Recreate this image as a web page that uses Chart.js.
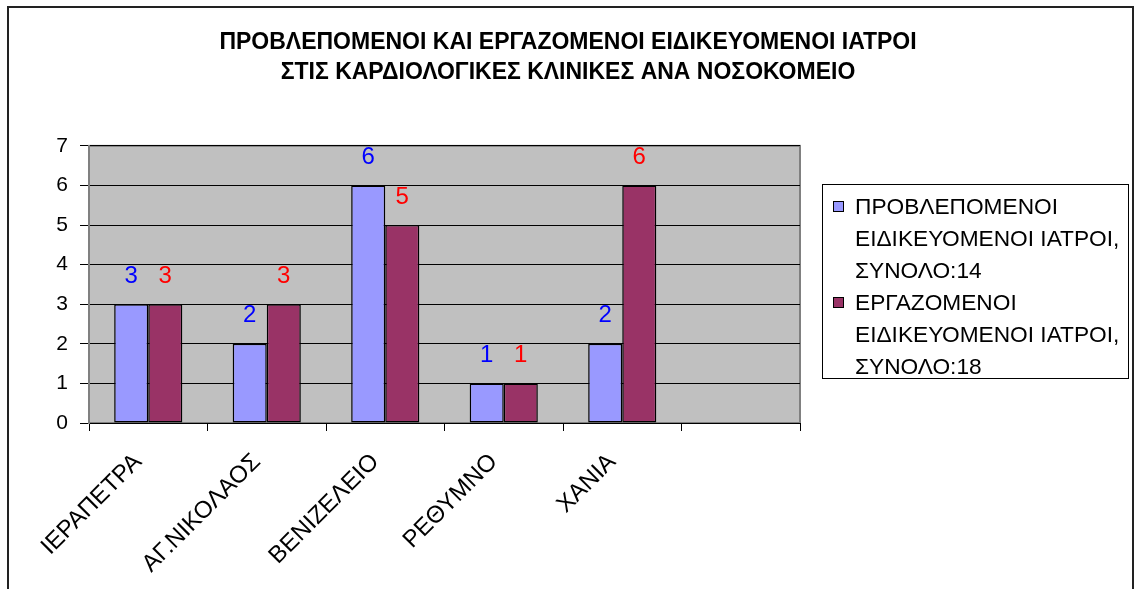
<!DOCTYPE html>
<html>
<head>
<meta charset="utf-8">
<script src="https://cdn.jsdelivr.net/npm/chart.js@4.4.1/dist/chart.umd.min.js"></script>
<style>
  body { margin: 0; background: #fff; }
  #wrap { position: relative; width: 1136px; height: 589px; overflow: hidden; }
  #frame { position: absolute; left: 7px; top: 6px; width: 1123px; height: 620px; border: 2px solid #222; border-bottom: none; }
  #chart { position: absolute; left: 0; top: 0; }
  #legenda { position: absolute; left: 822px; top: 184px; width: 305px; height: 188px; padding-top: 5px; border: 1px solid #000;
    font-family: 'Liberation Sans', Arial, sans-serif; font-size: 22.7px; line-height: 32px; color: #000; }
  .item { position: relative; padding-left: 32px; white-space: nowrap; }
  .cuadro { position: absolute; left: 10px; top: 11px; width: 9px; height: 9px; border: 1px solid #000; }
</style>
</head>
<body>
<div id="wrap">
  <canvas id="chart" width="1136" height="589"></canvas>
  <div id="frame"></div>
  <div id="legenda"></div>
</div>
<script>
// datos
const hospitales = ["ΙΕΡΑΠΕΤΡΑ", "ΑΓ.ΝΙΚΟΛΑΟΣ", "ΒΕΝΙΖΕΛΕΙΟ", "ΡΕΘΥΜΝΟ", "ΧΑΝΙΑ", ""];
const provlepomenoi = [3, 2, 6, 1, 2, null];
const ergazomenoi = [3, 3, 5, 1, 6, null];
const serie1 = ["ΠΡΟΒΛΕΠΟΜΕΝΟΙ", "ΕΙΔΙΚΕΥΟΜΕΝΟΙ ΙΑΤΡΟΙ,", "ΣΥΝΟΛΟ:14"];
const serie2 = ["ΕΡΓΑΖΟΜΕΝΟΙ", "ΕΙΔΙΚΕΥΟΜΕΝΟΙ ΙΑΤΡΟΙ,", "ΣΥΝΟΛΟ:18"];
const titulo = ["ΠΡΟΒΛΕΠΟΜΕΝΟΙ ΚΑΙ ΕΡΓΑΖΟΜΕΝΟΙ ΕΙΔΙΚΕΥΟΜΕΝΟΙ ΙΑΤΡΟΙ", "ΣΤΙΣ ΚΑΡΔΙΟΛΟΓΙΚΕΣ ΚΛΙΝΙΚΕΣ ΑΝΑ ΝΟΣΟΚΟΜΕΙΟ"];
const ejeY = { min: 0, max: 7, paso: 1 };

Chart.defaults.font.family = "'Liberation Sans', Arial, sans-serif";
Chart.defaults.color = "#000";

const colorEtiqueta = ["#0000FF", "#FF0000"];

// fondo gris del area de trazado
const fondoPlugin = {
  id: "fondo",
  beforeDraw(chart) {
    const a = chart.chartArea;
    const ctx = chart.ctx;
    ctx.save();
    ctx.fillStyle = "#C0C0C0";
    ctx.fillRect(a.left, a.top, a.right - a.left, a.bottom - a.top);
    ctx.strokeStyle = "#808080";
    ctx.lineWidth = 2;
    ctx.strokeRect(a.left, a.top, a.right - a.left, a.bottom - a.top);
    ctx.restore();
  }
};

// numeros encima de las barras
const etiquetasPlugin = {
  id: "etiquetas",
  afterDatasetsDraw(chart) {
    const ctx = chart.ctx;
    ctx.save();
    ctx.font = "24px 'Liberation Sans', Arial, sans-serif";
    ctx.textAlign = "center";
    ctx.textBaseline = "middle";
    chart.data.datasets.forEach((ds, i) => {
      const meta = chart.getDatasetMeta(i);
      ctx.fillStyle = colorEtiqueta[i];
      meta.data.forEach((barra, j) => {
        const v = ds.data[j];
        if (v === null) return;
        ctx.fillText(String(v), barra.x, barra.y - 28);
      });
    });
    ctx.restore();
  }
};

const ctx = document.getElementById("chart").getContext("2d");
const miChart = new Chart(ctx, {
  type: "bar",
  data: {
    labels: hospitales,
    datasets: [
      {
        label: serie1.join(" "),
        data: provlepomenoi,
        backgroundColor: "#9999FF",
        borderColor: "#000",
        borderWidth: 1.5,
        borderSkipped: false,
        categoryPercentage: 0.575,
        barPercentage: 1.0,
      },
      {
        label: serie2.join(" "),
        data: ergazomenoi,
        backgroundColor: "#993366",
        borderColor: "#000",
        borderWidth: 1.5,
        borderSkipped: false,
        categoryPercentage: 0.575,
        barPercentage: 1.0,
      },
    ],
  },
  options: {
    responsive: false,
    animation: false,
    layout: { padding: { left: 0, right: 0, top: 0, bottom: 0 } },
    plugins: {
      legend: { display: false },
      tooltip: { enabled: false },
      title: {
        display: true,
        text: titulo,
        font: { size: 23, weight: "bold", lineHeight: 1.28 },
        color: "#000",
        padding: { top: 28, bottom: 59 },
      },
    },
    scales: {
      x: {
        grid: { offset: true, drawOnChartArea: false, tickLength: 8, color: "#000" },
        border: { color: "#000", width: 1 },
        ticks: { minRotation: 45, maxRotation: 45, font: { size: 24 }, color: "#000", padding: 17, labelOffset: -10, autoSkip: false },
        afterFit: (s) => { s.height = 166; },
      },
      y: {
        min: ejeY.min,
        max: ejeY.max,
        ticks: { stepSize: ejeY.paso, font: { size: 21 }, color: "#000", padding: 12 },
        grid: { color: "#000", lineWidth: 1, tickLength: 9 },
        border: { color: "#808080", width: 2 },
        afterFit: (s) => { s.width = 89; },
      },
      derecha: {
        type: "linear",
        position: "right",
        display: true,
        ticks: { display: false },
        grid: { display: false },
        border: { display: false },
        afterFit: (s) => { s.width = 336; },
      },
    },
  },
  plugins: [fondoPlugin, etiquetasPlugin],
});

// leyenda en html
function armarLeyenda() {
  const cont = document.getElementById("legenda");
  const series = [serie1, serie2];
  const colores = ["#9999FF", "#993366"];
  series.forEach((lineas, i) => {
    const div = document.createElement("div");
    div.className = "item";
    const c = document.createElement("span");
    c.className = "cuadro";
    c.style.background = colores[i];
    div.appendChild(c);
    lineas.forEach((l, k) => {
      div.appendChild(document.createTextNode(l));
      if (k < lineas.length - 1) div.appendChild(document.createElement("br"));
    });
    cont.appendChild(div);
  });
}
armarLeyenda();
</script>
</body>
</html>
